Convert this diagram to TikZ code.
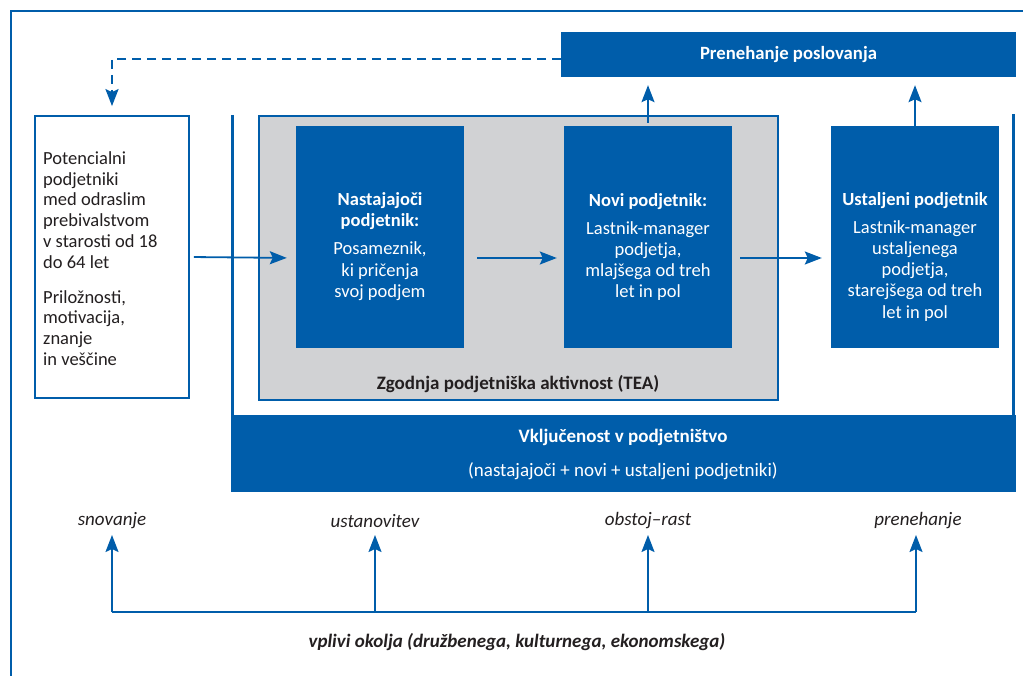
\documentclass[tikz,border=0pt]{standalone}
\usepackage{fontspec}
\setmainfont{Carlito}
\usetikzlibrary{arrows.meta}
\definecolor{gblue}{RGB}{0,93,170}
\definecolor{gfill}{RGB}{209,210,212}
\definecolor{gtext}{RGB}{35,31,32}
\tikzset{
  bluebox/.style={draw=none, fill=gblue, text=white, inner sep=0pt},
  whitebox/.style={draw=gblue, line width=1.8pt, fill=white, inner sep=0pt},
  teabox/.style={draw=gblue, line width=1.5pt, fill=gfill, inner sep=0pt},
  boxtext/.style={text=white, inner sep=0pt, align=center, font=\fontsize{18.5}{21.3}\selectfont},
  conn/.style={draw=gblue, line width=1.8pt},
  tipstyle/.style={-{Stealth[length=17pt,width=13pt,inset=3pt]}},
  arr/.style={conn, tipstyle},
  dashconn/.style={conn, line width=2.2pt, dash pattern=on 9pt off 6pt},
  frameline/.style={draw=gblue, line width=2.2pt},
  sideline/.style={draw=gblue, line width=3pt},
  phase/.style={inner sep=0pt, text=gtext, font=\fontsize{19}{22}\selectfont\itshape},
}
\begin{document}
\begin{tikzpicture}[x=1pt,y=-1pt]
\useasboundingbox (0,0) rectangle (1023,676);
% outer frame (top and left)
\draw[frameline] (1023,11) -- (11,11) -- (11,676);

% Prenehanje poslovanja
\node[bluebox, minimum width=455pt, minimum height=45pt,
      font=\fontsize{18.7}{22}\selectfont\bfseries] (pren) at (788.5,54.5) {Prenehanje poslovanja};

% potential entrepreneurs
\node[whitebox, minimum width=154pt, minimum height=282pt] (pot) at (112,257) {};
\node[inner sep=0pt, anchor=west, align=left, text=gtext,
      font=\fontsize{18.5}{20.8}\selectfont] (pottext) at (43,258.5)
  {Potencialni\\podjetniki\\med odraslim\\prebivalstvom\\v starosti od 18\\do 64 let\\[14pt]Priložnosti,\\motivacija,\\znanje\\in veščine};

% involvement frame
\draw[sideline] (232,115) -- (232,416);
\draw[sideline] (1013,114) -- (1013,416);
\node[bluebox, minimum width=785pt, minimum height=77pt] (vklj) at (623.5,453.5) {};
\node[boxtext, font=\fontsize{19}{22}\selectfont\bfseries] (vkljt) at (623,437) {Vključenost v podjetništvo};
\node[boxtext, font=\fontsize{19}{22}\selectfont] (vkljp) at (623,471) {(nastajajoči + novi + ustaljeni podjetniki)};

% TEA
\node[teabox, minimum width=519pt, minimum height=284pt] (tea) at (518.5,258) {};
\node[inner sep=0pt, text=gtext, font=\fontsize{19}{22}\selectfont\bfseries] (teat) at (518,384) {Zgodnja podjetniška aktivnost (TEA)};

% stage boxes
\node[bluebox, minimum width=168pt, minimum height=222pt] (nast) at (380,237) {};
\node[boxtext] (nastt) at (380,246.5)
  {\textbf{Nastajajoči}\\\textbf{podjetnik:}\\[6.7pt]Posameznik,\\ki pričenja\\svoj podjem};
\node[bluebox, minimum width=168pt, minimum height=222pt] (novi) at (648,237) {};
\node[boxtext] (novit) at (648,247)
  {\textbf{Novi podjetnik:}\\[6.7pt]Lastnik-manager\\podjetja,\\mlajšega od treh\\let in pol};
\node[bluebox, minimum width=168pt, minimum height=222pt] (ustal) at (915,237) {};
\node[boxtext] (ustalt) at (915,257)
  {\textbf{Ustaljeni podjetnik}\\[6pt]Lastnik-manager\\ustaljenega\\podjetja,\\starejšega od treh\\let in pol};

% connectors
\coordinate (dstart) at (561,59);
\draw[dashconn, tipstyle, shorten >=9pt] (dstart) -| (pot.north);
\draw[arr, shorten <=4pt, shorten >=9pt] (pot.east) -- ([yshift=-21pt]nast.west);
\draw[arr, shorten <=13pt, shorten >=7pt] ([yshift=-21pt]nast.east) -- ([yshift=-21pt]novi.west);
\draw[arr, shorten <=8pt, shorten >=9pt] ([yshift=-21pt]novi.east) -- ([yshift=-21pt]ustal.west);
\draw[arr, shorten <=3pt, shorten >=8pt] (novi.north) -- (novi.north |- pren.south);
\draw[arr, shorten >=8pt] (ustal.north) -- (ustal.north |- pren.south);

% phases
\node[phase] (ph1) at (112,521) {snovanje};
\node[phase] (ph2) at (375,521) {ustanovitev};
\node[phase] (ph3) at (648,521) {obstoj–rast};
\node[phase] (ph4) at (918,521) {prenehanje};
\coordinate (b1) at (112,612);
\coordinate (b2) at (375,612);
\coordinate (b3) at (648,612);
\coordinate (b4) at (916,612);
\draw[conn, line width=2.2pt] (b1) -- (b4);
\draw[arr, shorten >=14pt] (b1) -- (b1 |- ph1.center);
\draw[arr, shorten >=14pt] (b2) -- (b2 |- ph2.center);
\draw[arr, shorten >=14pt] (b3) -- (b3 |- ph3.center);
\draw[arr, shorten >=14pt] (b4) -- (b4 |- ph4.center);
\node[inner sep=0pt, text=gtext, font=\fontsize{19}{22}\selectfont\bfseries\itshape] (env) at (517,642)
  {vplivi okolja (družbenega, kulturnega, ekonomskega)};
\end{tikzpicture}
\end{document}
